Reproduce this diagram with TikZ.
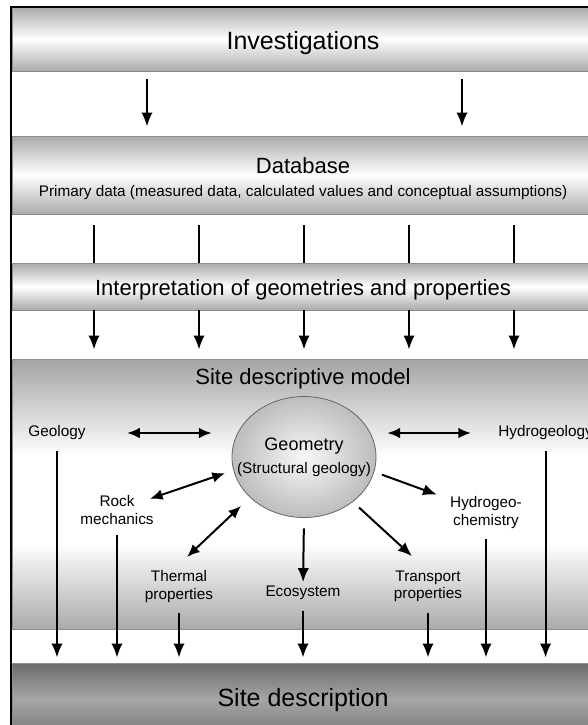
\documentclass[tikz,border=0pt]{standalone}
\usepackage{fontspec}
\setmainfont{Liberation Sans}
\usepackage{tikz}
\usetikzlibrary{positioning}
\usetikzlibrary{shapes.geometric,arrows.meta}
\tikzstyle{band} = [rectangle, draw=black!45, line width=0.7pt, top color=black!33,
    bottom color=black!33, middle color=white, minimum width=436.5pt, inner sep=0pt]
\tikzstyle{bighead} = [font=\fontsize{18.75}{22}\selectfont, inner sep=0pt]
\tikzstyle{heading} = [font=\fontsize{16.5}{20}\selectfont, inner sep=0pt]
\tikzstyle{topic} = [font=\fontsize{11.5}{12.8}\selectfont, align=center, inner sep=0pt]
\tikzstyle{line} = [draw, line width=1.5pt, -{Latex[length=10.5pt,width=8.5pt]}]
\tikzstyle{dline} = [draw, line width=1.5pt, {Latex[length=9.5pt,width=8pt]}-{Latex[length=9.5pt,width=8pt]}]
\tikzstyle{feed} = [draw, line width=1.5pt]
\tikzstyle{down} = [line, shorten <=8pt, shorten >=3.75pt]
\pgfdeclareverticalshading{sdmshading}{100bp}{color(0bp)=(black!33); color(25bp)=(black!33);
    color(41bp)=(white); color(57bp)=(white); color(75bp)=(black!36); color(100bp)=(black!36)}

\begin{document}
\begin{tikzpicture}[x=0.75pt, y=-0.75pt]
        \useasboundingbox (0,0) rectangle (588,725);
        \clip (0,0) rectangle (588,725);
        % bands
        \node [band, minimum height=48pt] (inv) at (303,39) {};
        \node [band, minimum height=58.5pt] (db) at (303,175) {};
        \node [band, minimum height=35.25pt] (interp) at (303,286.5) {};
        \node [band, shading=sdmshading, minimum height=202.5pt] (sdm) at (303,494) {};
        \node [band, top color=black!58, bottom color=black!52, middle color=black!35,
            minimum height=54pt] (sd) at (303,699) {};
        % band texts
        \node [bighead] (invtext) at (303,43) {Investigations};
        \node [heading] (dbtitle) at (303,166) {Database};
        \node [topic, below=8pt of dbtitle] (dbtext) {Primary data (measured data, calculated values and conceptual assumptions)};
        \node [heading] (interptext) at (303,290) {Interpretation of geometries and properties};
        \node [heading, below=7.5pt of sdm.north] (sdmtext) {Site descriptive model};
        \node [bighead] (sdtext) at (303,700) {Site description};
        % model nodes
        \node [ellipse, draw=black!60, line width=0.6pt, inner color=black!3, outer color=black!26,
            minimum width=108pt, minimum height=90.75pt, inner sep=0pt] (geom) at (304,457) {};
        \node [align=center, inner sep=0pt, font=\fontsize{11.5}{14}\selectfont] (geomtext) at (geom.center)
            {{\fontsize{13.5}{16}\selectfont Geometry}\\[3.25pt](Structural geology)};
        \node [topic] (geology) at (57,433) {Geology};
        \node [topic, anchor=west] (hydrogeo) at (498,433) {Hydrogeology};
        \node [topic] (rock) at (117,510) {Rock\\mechanics};
        \node [topic] (thermal) at (179,586.5) {Thermal\\properties};
        \node [topic] (eco) at (303,593) {Ecosystem};
        \node [topic] (transport) at (428,586.5) {Transport\\properties};
        \node [topic] (hydrochem) at (486,512.5) {Hydrogeo-\\chemistry};
        % edges
        \foreach \x in {147,462}
            \path [line, shorten <=6pt, shorten >=6.75pt] (\x,0 |- inv.south) -- (\x,0 |- db.north);
        \foreach \x in {94,199,304,409,514} {
            \path [feed, shorten <=8.25pt] (\x,0 |- db.south) -- (\x,0 |- interp.north);
            \path [line, shorten >=6.75pt] (\x,0 |- interp.south) -- (\x,0 |- sdm.north);
        }
        \path [dline, shorten <=31pt, shorten >=15pt] (geology.east) -- (geology.east -| geom.west);
        \path [dline, shorten <=8.25pt, shorten >=20.25pt] (geom.east |- hydrogeo.west) -- (hydrogeo.west);
        \path [dline, shorten <=26.1pt, shorten >=62.6pt] (rock.center) -- ([yshift=8pt]geom.center);
        \path [dline, shorten <=8.3pt, shorten >=65pt] ([yshift=4.5pt]thermal.north) -- ([yshift=8pt]geom.center);
        \path [line, shorten <=7.9pt, shorten >=2.8pt] (geom.south) -- (eco.north);
        \path [line, shorten <=56pt, shorten >=16.3pt] (geom.center) -- (transport.north);
        \path [line, shorten <=62.2pt, shorten >=39.1pt] ([yshift=8pt]geom.center) -- (hydrochem.center);
        \foreach \n in {geology,rock,thermal,eco,transport,hydrochem,hydrogeo}
            \path [down] (\n.south) -- (\n.south |- sd.north);
        % frame
        \draw [line width=1.6pt] (11,7) rectangle (700,800);
    \end{tikzpicture}
\end{document}
